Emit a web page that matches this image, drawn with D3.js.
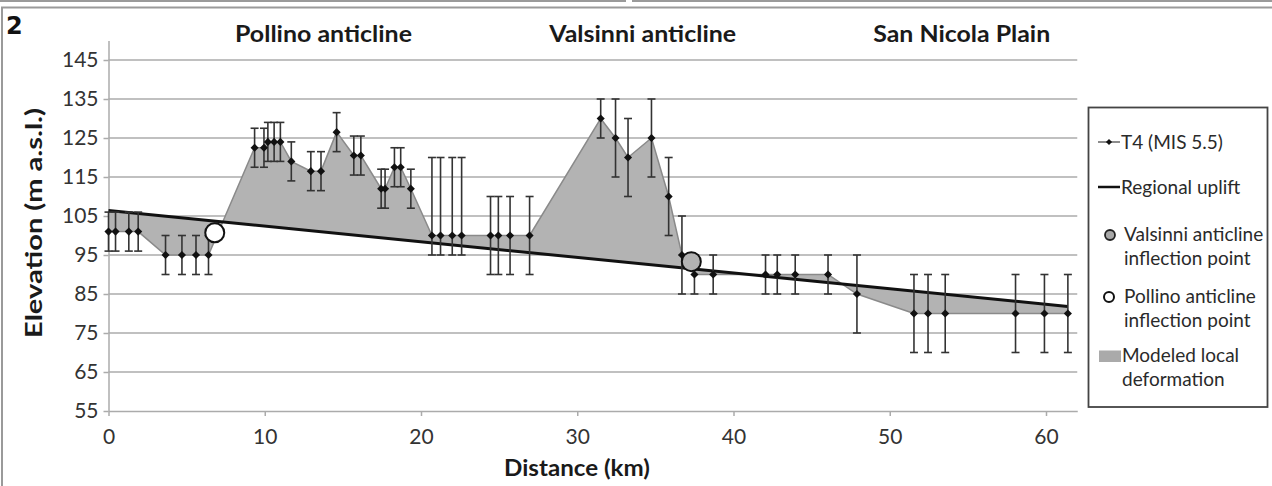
<!DOCTYPE html>
<html>
<head>
<meta charset="utf-8">
<script src="https://cdn.jsdelivr.net/npm/d3@7"></script>
<style>
  body { margin: 0; background: #fff; }
  svg { display: block; }
  text { font-family: Lato, "Open Sans", sans-serif; fill: #222; }
</style>
</head>
<body>
<svg id="chart" width="1272" height="486"></svg>
<script>
// T4 (MIS 5.5) terrace: distance along profile (km), elevation (m a.s.l.) and error bars
const distanceKm = [0.0, 0.45, 1.3, 1.9, 3.65, 4.7, 5.6, 6.4, 9.35, 9.95, 10.2, 10.6, 11.0, 11.7,
  12.95, 13.6, 14.6, 15.7, 16.15, 17.45, 17.7, 18.3, 18.7, 19.35, 20.7, 21.25, 22.0, 22.6,
  24.45, 24.95, 25.7, 26.95, 31.5, 32.45, 33.25, 34.75, 35.85, 36.7, 37.5, 38.7, 42.05, 42.8,
  43.95, 46.05, 47.9, 51.55, 52.45, 53.55, 58.05, 59.9, 61.4];
const elevationM = [101, 101, 101, 101, 95, 95, 95, 95, 122.5, 122.5, 124, 124, 124, 119,
  116.5, 116.5, 126.5, 120.5, 120.5, 112, 112, 117.5, 117.5, 112, 100, 100, 100, 100,
  100, 100, 100, 100, 130, 125, 120, 125, 110, 95, 90, 90, 90, 90,
  90, 90, 85, 80, 80, 80, 80, 80, 80];
const errorUp = [5, 5, 5, 5, 5, 5, 5, 5, 5, 5, 5, 5, 5, 5,
  5, 5, 5, 5, 5, 5, 5, 5, 5, 5, 20, 20, 20, 20,
  10, 10, 10, 10, 5, 10, 10, 10, 10, 10, 5, 5, 5, 5,
  5, 5, 10, 10, 10, 10, 10, 10, 10];
const errorDown = [5, 5, 5, 5, 5, 5, 5, 5, 5, 5, 5, 5, 5, 5,
  5, 5, 5, 5, 5, 5, 5, 5, 5, 5, 5, 5, 5, 5,
  10, 10, 10, 10, 5, 10, 10, 10, 10, 10, 5, 5, 5, 5,
  5, 5, 10, 10, 10, 10, 10, 10, 10];

// Regional uplift trend (straight line between its end points)
const upliftKm = [0, 61.4];
const upliftM = [106.4, 81.8];

// Anticline inflection points
const inflectionNames = ["Pollino", "Valsinni"];
const inflectionKm = [6.8, 37.3];
const inflectionM = [100.7, 93.3];

// Axis ticks and labels
const yTicks = [55, 65, 75, 85, 95, 105, 115, 125, 135, 145];
const xTicks = [0, 10, 20, 30, 40, 50, 60];
const regionNames = ["Pollino anticline", "Valsinni anticline", "San Nicola Plain"];
const panelLabel = "2";
const xTitle = "Distance (km)";
const yTitle = "Elevation (m a.s.l.)";

// ---- layout ----
const svg = d3.select("#chart");
const x = d3.scaleLinear().domain([0, 62]).range([108.5, 1077.25]);
const y = d3.scaleLinear().domain([55, 150]).range([411, 40.5]);
const uplift = d3.scaleLinear().domain(upliftKm).range(upliftM);

const gridColor = "#ababab";
const areaFill = "#b3b3b3";

// panel frame
svg.append("line").attr("x1", 0).attr("x2", 626).attr("y1", 1).attr("y2", 1)
  .attr("stroke", "#9a9a9a").attr("stroke-width", 2);
svg.append("line").attr("x1", 632).attr("x2", 1272).attr("y1", 1).attr("y2", 1)
  .attr("stroke", "#9a9a9a").attr("stroke-width", 2);
svg.append("path").attr("d", "M1272,7.5H2V486")
  .attr("fill", "none").attr("stroke", "#9a9a9a").attr("stroke-width", 2);

// panel number
svg.append("text").text(panelLabel)
  .attr("x", 6).attr("y", 34)
  .style("font-family", "'DejaVu Sans', sans-serif")
  .style("font-weight", 900).style("font-size", "24px").style("fill", "#111");

// region titles
const regionCenters = [323.5, 642.7, 961.7];
const regionWidths = [177, 187, 177];
regionNames.forEach((name, i) => {
  svg.append("text").text(name)
    .attr("x", regionCenters[i] - regionWidths[i] / 2).attr("y", 41.5)
    .attr("textLength", regionWidths[i]).attr("lengthAdjust", "spacingAndGlyphs")
    .style("font-weight", 700).style("font-size", "22px").style("fill", "#1a1a1a");
});

// horizontal gridlines
svg.append("g").selectAll("line").data(yTicks.filter(v => v !== 55)).join("line")
  .attr("x1", x(0)).attr("x2", x(62))
  .attr("y1", d => y(d)).attr("y2", d => y(d))
  .attr("stroke", gridColor).attr("stroke-width", 1.5);

// axes
const yAxis = svg.append("g").attr("transform", `translate(${x(0)},0)`)
  .call(d3.axisLeft(y).tickValues(yTicks).tickSizeInner(5).tickSizeOuter(0).tickPadding(5));
const xAxis = svg.append("g").attr("transform", `translate(0,${y(55)})`)
  .call(d3.axisBottom(x).tickValues(xTicks).tickSizeInner(5).tickSizeOuter(0).tickPadding(13));
[yAxis, xAxis].forEach(g => {
  g.select(".domain").attr("stroke", gridColor).attr("stroke-width", 1.5);
  g.selectAll(".tick line").attr("stroke", gridColor).attr("stroke-width", 1.5);
  g.selectAll(".tick text")
    .style("font-family", "Lato, sans-serif").style("font-size", "21px").style("fill", "#333");
});

// axis titles
svg.append("text").text(xTitle)
  .attr("x", 577).attr("y", 476).attr("text-anchor", "middle")
  .attr("textLength", 146).attr("lengthAdjust", "spacingAndGlyphs")
  .style("font-weight", 700).style("font-size", "22px").style("fill", "#1a1a1a");
svg.append("text").text(yTitle)
  .attr("transform", `translate(41.5,223) rotate(-90)`)
  .attr("text-anchor", "middle")
  .attr("textLength", 230).attr("lengthAdjust", "spacingAndGlyphs")
  .style("font-weight", 700).style("font-size", "22px").style("fill", "#1a1a1a");

// data table built from the arrays
const pts = distanceKm.map((d, i) => ({ km: d, m: elevationM[i], up: errorUp[i], down: errorDown[i] }));

// modeled local deformation: area between T4 profile and regional uplift
svg.append("path").datum(pts)
  .attr("d", d3.area().x(d => x(d.km)).y0(d => y(uplift(d.km))).y1(d => y(d.m)))
  .attr("fill", areaFill).attr("stroke", "none");

// T4 profile line
svg.append("path").datum(pts)
  .attr("d", d3.line().x(d => x(d.km)).y(d => y(d.m)))
  .attr("fill", "none").attr("stroke", "#8a8a8a").attr("stroke-width", 1.5);

// regional uplift line
svg.append("path").datum(upliftKm.map((d, i) => [d, upliftM[i]]))
  .attr("d", d3.line().x(d => x(d[0])).y(d => y(d[1])))
  .attr("fill", "none").attr("stroke", "#111").attr("stroke-width", 3);

// error bars
const eb = svg.append("g").attr("stroke", "#333").attr("stroke-width", 1.6);
eb.selectAll("line.v").data(pts).join("line").attr("class", "v")
  .attr("x1", d => x(d.km)).attr("x2", d => x(d.km))
  .attr("y1", d => y(d.m + d.up)).attr("y2", d => y(d.m - d.down));
eb.selectAll("line.t").data(pts).join("line").attr("class", "t")
  .attr("x1", d => x(d.km) - 4).attr("x2", d => x(d.km) + 4)
  .attr("y1", d => y(d.m + d.up)).attr("y2", d => y(d.m + d.up));
eb.selectAll("line.b").data(pts).join("line").attr("class", "b")
  .attr("x1", d => x(d.km) - 4).attr("x2", d => x(d.km) + 4)
  .attr("y1", d => y(d.m - d.down)).attr("y2", d => y(d.m - d.down));

// diamond markers
const diamond = d3.symbol().type(d3.symbolDiamond2).size(42);
svg.append("g").selectAll("path").data(pts).join("path")
  .attr("d", diamond)
  .attr("transform", d => `translate(${x(d.km)},${y(d.m)})`)
  .attr("fill", "#111");

// inflection points
const inflFill = { Pollino: "#fff", Valsinni: "#b3b3b3" };
svg.append("g").selectAll("circle").data(inflectionNames).join("circle")
  .attr("cx", (d, i) => x(inflectionKm[i])).attr("cy", (d, i) => y(inflectionM[i]))
  .attr("r", 9.5)
  .attr("fill", d => inflFill[d]).attr("stroke", "#111").attr("stroke-width", 2);

// legend
const lg = svg.append("g");
lg.append("rect").attr("x", 1088.5).attr("y", 107.5).attr("width", 179).attr("height", 299.5)
  .attr("fill", "#fff").attr("stroke", "#444").attr("stroke-width", 1.8);
const legendFont = g => g.style("font-size", "19px").style("fill", "#2a2a2a");

lg.append("line").attr("x1", 1098).attr("x2", 1120).attr("y1", 142).attr("y2", 142)
  .attr("stroke", "#666").attr("stroke-width", 1.5);
lg.append("path").attr("d", d3.symbol().type(d3.symbolDiamond2).size(24))
  .attr("transform", "translate(1109,142)").attr("fill", "#111");
lg.append("text").text("T4 (MIS 5.5)").attr("x", 1121).attr("y", 148.5).call(legendFont);

lg.append("line").attr("x1", 1098).attr("x2", 1120).attr("y1", 187).attr("y2", 187)
  .attr("stroke", "#111").attr("stroke-width", 2.5);
lg.append("text").text("Regional uplift").attr("x", 1121).attr("y", 193.5).call(legendFont);

lg.append("circle").attr("cx", 1110).attr("cy", 235).attr("r", 5)
  .attr("fill", "#a8a8a8").attr("stroke", "#222").attr("stroke-width", 1.8);
lg.append("text").text("Valsinni anticline").attr("x", 1124).attr("y", 241).call(legendFont);
lg.append("text").text("inflection point").attr("x", 1124).attr("y", 265).call(legendFont);

lg.append("circle").attr("cx", 1109).attr("cy", 297).attr("r", 5)
  .attr("fill", "#fff").attr("stroke", "#111").attr("stroke-width", 2);
lg.append("text").text("Pollino anticline").attr("x", 1124).attr("y", 303).call(legendFont);
lg.append("text").text("inflection point").attr("x", 1124).attr("y", 327).call(legendFont);

lg.append("rect").attr("x", 1099).attr("y", 350.5).attr("width", 22).attr("height", 11.5)
  .attr("fill", "#aaa");
lg.append("text").text("Modeled local").attr("x", 1122).attr("y", 361.5).call(legendFont);
lg.append("text").text("deformation").attr("x", 1122).attr("y", 385.5).call(legendFont);
</script>
</body>
</html>
